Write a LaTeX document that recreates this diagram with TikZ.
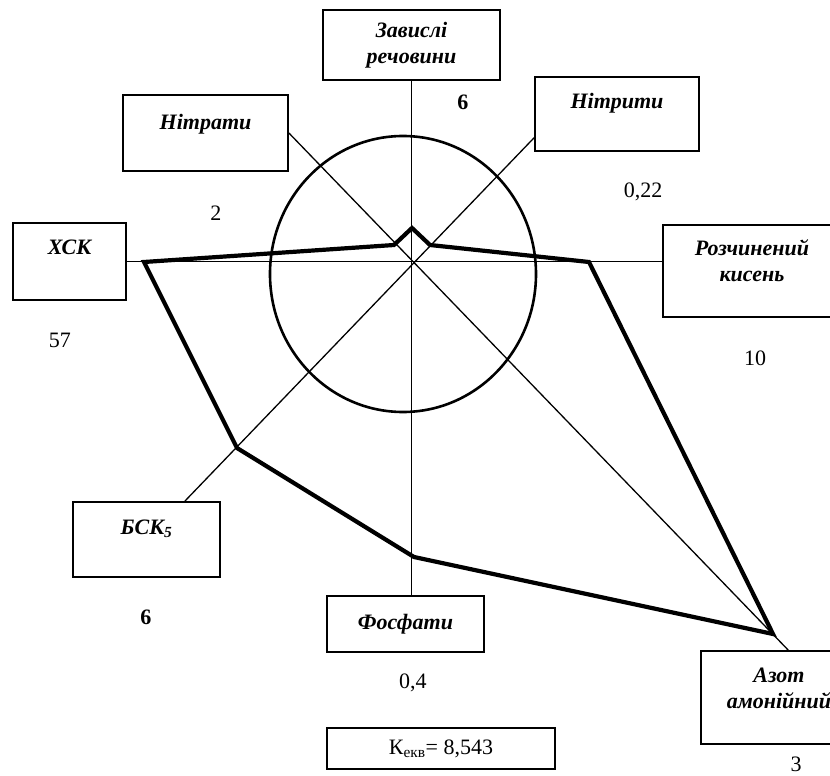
\documentclass[tikz,border=0pt]{standalone}
\usepackage{fontspec}
\setmainfont{Liberation Serif}

\begin{document}
\begin{tikzpicture}[x=1pt,y=1pt,
  box/.style={draw, line width=1.8pt, inner sep=0pt, align=center,
    font=\fontsize{22}{26}\selectfont\bfseries\itshape},
  val/.style={font=\fontsize{22}{26}\selectfont},
  axis/.style={line width=1.3pt},
  ring/.style={line width=2.6pt},
  profile/.style={line width=4.2pt}]
\useasboundingbox (-413,-512) rectangle (417,264);

% indicator boxes
\node[box, minimum width=177pt, minimum height=70pt] (zav) at (-1.5,219) {Завислі\\речовини};
\node[box, minimum width=165pt, minimum height=76pt, text depth=22pt] (nitraty) at (-207.5,131) {Нітрати};
\node[box, minimum width=164pt, minimum height=74pt, text depth=26pt] (nitryty) at (204,150) {Нітрити};
\node[box, minimum width=113pt, minimum height=77pt, text depth=29pt] (xck) at (-343.5,2.5) {ХСК};
\node[box, minimum width=178pt, minimum height=92pt, text depth=20pt] (rozch) at (339,-7) {Розчинений\\кисень};
\node[box, minimum width=147pt, minimum height=75pt, text depth=25pt] (bsk) at (-266.5,-275.5) {БСК\textsubscript{5}};
\node[box, minimum width=157pt, minimum height=56pt] (fosf) at (-7.5,-360) {Фосфати};
\node[box, minimum width=156pt, minimum height=93pt, text depth=18pt] (azot) at (366,-433.5) {Азот\\амонійний};
\node[box, font=\fontsize{22}{26}\selectfont, line width=1.6pt, minimum width=228pt, minimum height=41pt] (kekv) at (28,-484.5) {К\textsubscript{екв}= 8,543};

% axes
\draw[axis] (zav.south) -- (zav.south |- fosf.north);
\draw[axis] (xck.east) -- (xck.east -| rozch.west);
\draw[axis] (nitraty.east) -- (azot.79);
\draw[axis] (nitryty.196) -- (bsk.45);

\draw[ring] (-10,-10) ellipse [x radius=133, y radius=138];

\draw[profile] (-1,36) -- (17,19) -- (176,2) -- (360,-370) -- (1,-293)
  -- (-176,-184) -- (-269,2) -- (-19,19) -- cycle;

% values
\node[val, font=\fontsize{22}{26}\selectfont\bfseries] (vzav) at (50,162) {6};
\node[val] (vnitraty) at (-197,51) {2};
\node[val] (vnitryty) at (230,72) {0,22};
\node[val] (vxck) at (-353,-76) {57};
\node[val] (vrozch) at (342,-94) {10};
\node[val, font=\fontsize{22}{26}\selectfont\bfseries] (vbsk) at (-267,-353) {6};
\node[val] (vfosf) at (0,-419) {0,4};
\node[val] (vazot) at (383,-500) {3};
\end{tikzpicture}
\end{document}
